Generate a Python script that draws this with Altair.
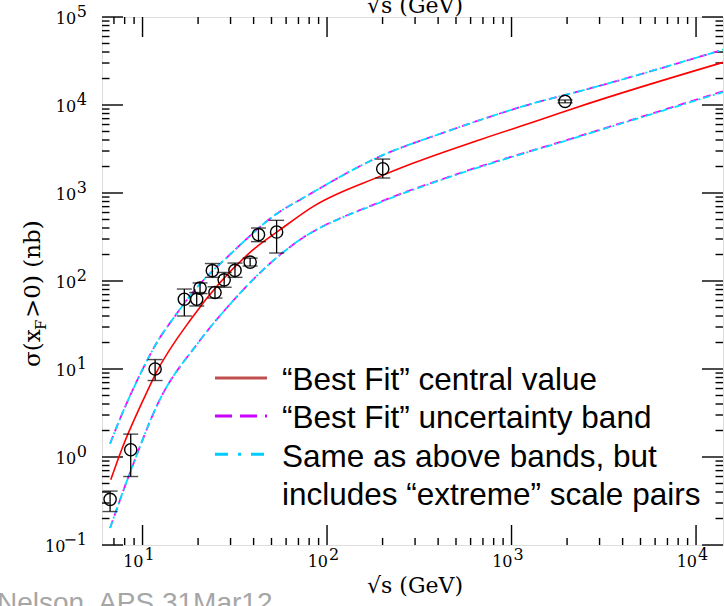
import altair as alt
import pandas as pd

# ---------------- data ----------------
pt_sqrt_s = [6.67, 8.63, 11.7, 16.85, 19.66, 20.5, 23.9, 24.7, 27.7, 31.7, 38.3, 42.5, 53.3, 200.4, 1950]
pt_sigma = [0.33, 1.21, 10.0, 62, 62, 83, 131, 74, 103, 132, 164, 336, 360, 1888, 10990]
pt_lo = [0.24, 0.60, 7.4, 40, 52, 72, 110, 64, 85, 110, 148, 280, 208, 1480, 10600]
pt_hi = [0.41, 1.82, 12.8, 81, 74, 95, 158, 86, 125, 160, 182, 400, 489, 2430, 11400]

fit_x = [6.73, 7.7, 10.1, 11.7, 18.5, 39.8, 55.7, 84.3, 193.6, 294, 675, 1430, 2207, 14000]
fit_y = [0.552, 1.21, 4.48, 8.6, 38, 227, 383, 705, 1545, 2190, 4040, 6790, 9250, 30500]

band_hi_x = [6.67, 7.7, 10.1, 11.7, 15.0, 18.5, 30.4, 55.7, 71.5, 193.6, 446, 1430, 2207, 14000]
band_hi_y = [1.42, 3.0, 10.3, 18.5, 40, 72, 208, 618, 839, 2606, 5000, 11000, 13900, 42500]
band_lo_x = [6.67, 8.74, 12.4, 19.7, 29.2, 56.7, 65.6, 193.6, 446, 2350, 14000]
band_lo_y = [0.156, 0.75, 4.48, 19, 52, 205, 260, 790, 1500, 4450, 14300]

ext_hi_x = [6.67, 7.7, 10.1, 11.7, 15.0, 18.5, 30.4, 55.7, 71.5, 193.6, 446, 1430, 2207, 14000]
ext_hi_y = [1.42, 3.0, 10.3, 18.5, 40, 72, 208, 618, 839, 2606, 5000, 11000, 13900, 42500]
ext_lo_x = [6.67, 8.74, 12.4, 19.7, 29.2, 56.7, 65.6, 193.6, 446, 2350, 14000]
ext_lo_y = [0.156, 0.75, 4.48, 19, 52, 205, 260, 780, 1480, 4400, 14000]

x_major = [10, 100, 1000, 10000]
x_minor = [7, 8, 9] + [m * d for d in (10, 100, 1000) for m in range(2, 10)]
x_exp = ["1", "2", "3", "4"]
y_major = [0.1, 1, 10, 100, 1000, 10000, 100000]
y_minor = [m * d for d in (0.1, 1, 10, 100, 1000, 10000) for m in range(2, 10)]
y_exp = ["\u22121", "0", "1", "2", "3", "4", "5"]

legend_labels = ["\u201cBest Fit\u201d central value",
                 "\u201cBest Fit\u201d uncertainty band",
                 "Same as above bands, but",
                 "includes \u201cextreme\u201d scale pairs"]

# ---------------- layout ----------------
W, H = 621, 528
xs = alt.Scale(type="log", domain=[6.03, 14000], nice=False)
ys = alt.Scale(type="log", domain=[0.1, 100000], nice=False)
SERIF = "DejaVu Serif"

pts = pd.DataFrame({"x": pt_sqrt_s, "y": pt_sigma, "lo": pt_lo, "hi": pt_hi})


def curve(xv, yv, color, width, dash=None):
    df = pd.DataFrame({"x": xv, "y": yv})
    kw = dict(color=color, strokeWidth=width, interpolate="monotone")
    if dash:
        kw["strokeDash"] = dash
    return alt.Chart(df).mark_line(**kw).encode(
        x=alt.X("x:Q", scale=xs, axis=None),
        y=alt.Y("y:Q", scale=ys, axis=None),
        order="x:Q",
    )


layers = []


def xticks(vals, length):
    df = pd.DataFrame({"v": vals})
    base = alt.Chart(df).mark_rule(color="black", strokeWidth=1.4)
    b = base.encode(x=alt.X("v:Q", scale=xs, axis=None), y=alt.value(H), y2=alt.value(H - length))
    t = base.encode(x=alt.X("v:Q", scale=xs, axis=None), y=alt.value(0), y2=alt.value(length))
    return [b, t]


def yticks(vals, length):
    df = pd.DataFrame({"v": vals})
    base = alt.Chart(df).mark_rule(color="black", strokeWidth=1.4)
    l = base.encode(y=alt.Y("v:Q", scale=ys, axis=None), x=alt.value(0), x2=alt.value(length))
    r = base.encode(y=alt.Y("v:Q", scale=ys, axis=None), x=alt.value(W), x2=alt.value(W - length))
    return [l, r]


layers += xticks(x_major, 20) + xticks(x_minor, 7)
layers += yticks(y_major, 21) + yticks(y_minor, 7.5)

# tick labels: "10" plus exponent
xl = pd.DataFrame({"v": x_major, "e": x_exp})
layers.append(alt.Chart(xl).mark_text(font=SERIF, fontSize=16, align="right", baseline="alphabetic", dx=1).encode(
    x=alt.X("v:Q", scale=xs, axis=None), y=alt.value(H + 22), text=alt.value("10")))
layers.append(alt.Chart(xl).mark_text(font=SERIF, fontSize=16, align="left", baseline="alphabetic", dx=2).encode(
    x=alt.X("v:Q", scale=xs, axis=None), y=alt.value(H + 15), text="e:N"))

yl = pd.DataFrame({"v": y_major, "e": y_exp})
layers.append(alt.Chart(yl).mark_text(font=SERIF, fontSize=16, align="right", baseline="alphabetic").encode(
    y=alt.Y("v:Q", scale=ys, axis=None), x=alt.value(-15), text="e:N"))
layers.append(alt.Chart(yl).transform_calculate(bx="-15 - 10.8*length(datum.e)").mark_text(
    font=SERIF, fontSize=16, align="right", baseline="alphabetic", dy=7).encode(
    y=alt.Y("v:Q", scale=ys, axis=None), x=alt.X("bx:Q", scale=None), text=alt.value("10")))

# curves
layers.append(curve(band_hi_x, band_hi_y, "#FF00FF", 1.8, [8, 5]))
layers.append(curve(band_lo_x, band_lo_y, "#FF00FF", 1.8, [8, 5]))
layers.append(curve(ext_hi_x, ext_hi_y, "#00E0FF", 1.8, [7, 3, 2, 3]))
layers.append(curve(ext_lo_x, ext_lo_y, "#00E0FF", 1.8, [7, 3, 2, 3]))
layers.append(curve(fit_x, fit_y, "#FF0000", 1.6))

# data points with error bars
base = alt.Chart(pts)
layers.append(base.mark_rule(color="black", strokeWidth=1.3).encode(
    x=alt.X("x:Q", scale=xs, axis=None), y=alt.Y("lo:Q", scale=ys, axis=None), y2="hi:Q"))
layers.append(base.mark_tick(color="black", orient="horizontal", size=15, thickness=1.4).encode(
    x=alt.X("x:Q", scale=xs, axis=None), y=alt.Y("lo:Q", scale=ys, axis=None)))
layers.append(base.mark_tick(color="black", orient="horizontal", size=15, thickness=1.4).encode(
    x=alt.X("x:Q", scale=xs, axis=None), y=alt.Y("hi:Q", scale=ys, axis=None)))
layers.append(base.mark_point(shape="circle", filled=False, size=150, color="black", strokeWidth=1.4, opacity=1).encode(
    x=alt.X("x:Q", scale=xs, axis=None), y=alt.Y("y:Q", scale=ys, axis=None)))

# legend
one = pd.DataFrame({"k": [0]})
samples = [("#C0504D", None, 361, 3), ("#CC00FF", [17, 8], 399, 3), ("#00CCFF", [13, 10, 3, 10], 437.3, 3)]
for col, dash, yy, sw in samples:
    kw = dict(color=col, strokeWidth=sw)
    if dash:
        kw["strokeDash"] = dash
    layers.append(alt.Chart(one).mark_rule(**kw).encode(
        x=alt.value(113), x2=alt.value(165), y=alt.value(yy)))
for i, lab in enumerate(legend_labels):
    layers.append(alt.Chart(one).mark_text(font="Liberation Sans", fontSize=31.5, align="left",
                                           baseline="alphabetic", color="black").encode(
        x=alt.value(180), y=alt.value(373 + 38.3 * i), text=alt.value(lab)))

# axis titles
for yy in (576, -4):
    layers.append(alt.Chart(one).mark_text(font=SERIF, fontSize=22, align="center", baseline="alphabetic").encode(
        x=alt.value(313), y=alt.value(yy), text=alt.value("\u221as  (GeV)")))

ty0 = 350
layers.append(alt.Chart(one).mark_text(font=SERIF, fontSize=23, angle=270, align="left", baseline="alphabetic").encode(
    x=alt.value(-62), y=alt.value(ty0), text=alt.value("\u03c3(x")))
layers.append(alt.Chart(one).mark_text(font=SERIF, fontSize=15, angle=270, align="left", baseline="alphabetic").encode(
    x=alt.value(-56), y=alt.value(ty0 - 37), text=alt.value("F")))
layers.append(alt.Chart(one).mark_text(font=SERIF, fontSize=23, angle=270, align="left", baseline="alphabetic").encode(
    x=alt.value(-62), y=alt.value(ty0 - 49), text=alt.value(">0)  (nb)")))

# footer
layers.append(alt.Chart(one).mark_text(font="Liberation Sans", fontSize=28, align="left", baseline="alphabetic",
                                       color="#A6A6A6").encode(
    x=alt.value(-105), y=alt.value(595), text=alt.value("Nelson, APS 31Mar12")))

chart = alt.layer(*layers).properties(
    width=W, height=H,
    autosize=alt.AutoSizeParams(type="none"),
    padding={"left": 102, "top": 17, "right": 1, "bottom": 61},
).configure_view(stroke="black", strokeWidth=2).configure(background="white")

chart.save("out.html", embed_options={"renderer": "svg", "actions": False})
